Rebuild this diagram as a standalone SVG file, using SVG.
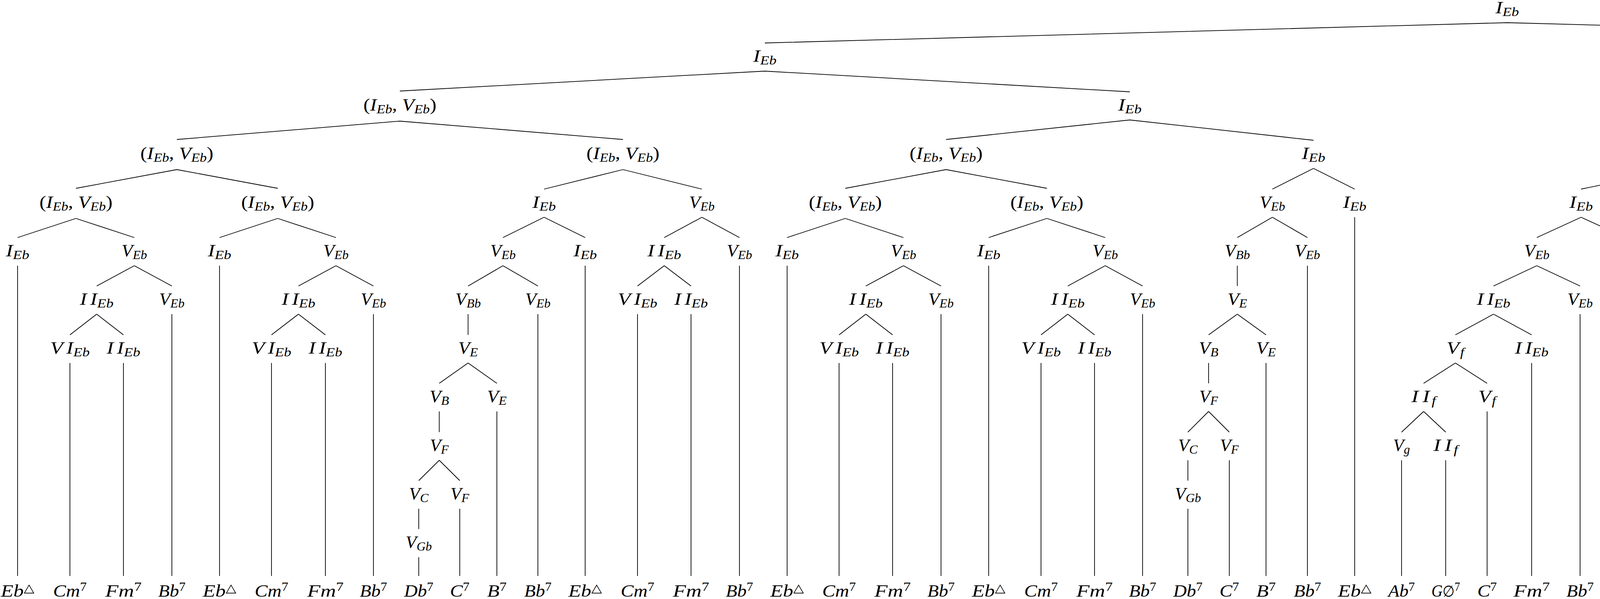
<svg xmlns="http://www.w3.org/2000/svg" width="7283" height="1533" viewBox="0 0 7283 1533">
<style>
text{font-family:"Liberation Serif","Times New Roman",serif;font-style:italic;font-size:45px;fill:#000;text-anchor:middle}
.s{font-size:31.5px}
.r{font-style:normal}
.p{font-size:31.5px;font-style:normal}
.tri{font-family:"DejaVu Sans",sans-serif;font-style:normal;font-size:30px}
.es{font-family:"DejaVu Sans",sans-serif;font-style:normal;font-size:40px}
#edges path{stroke:#000;stroke-width:1.8;fill:none}
</style>
<rect width="7283" height="1533" fill="#fff"/>
<g id="edges">
<path d="M3858.5 58L1958 110M3858.5 58L5759.1 110"/>
<path d="M1958 182L1023.7 233M1958 182L2892.3 235"/>
<path d="M1023.7 310L452.7 357M1023.7 310L1594.8 357"/>
<path d="M452.7 434L194.4 482M452.7 434L711 482"/>
<path d="M194.4 559L45 608M194.4 559L343.8 608"/>
<path d="M45 680L45 1474"/>
<path d="M343.8 680L247.5 732M343.8 680L440 732"/>
<path d="M247.5 804L179 857M247.5 804L316 857"/>
<path d="M179 929L179 1474M316 929L316 1474M440 804L440 1474"/>
<path d="M711 559L562 608M711 559L860 608"/>
<path d="M562 680L562 1474"/>
<path d="M860 680L764 732M860 680L956 732"/>
<path d="M764 804L695 857M764 804L833 857"/>
<path d="M695 929L695 1474M833 929L833 1474M956 804L956 1474"/>
<path d="M1594.8 434L1392.8 484M1594.8 434L1796.8 484"/>
<path d="M1392.8 556L1287.6 608M1392.8 556L1498 608"/>
<path d="M1287.6 680L1198.3 732M1287.6 680L1377 732"/>
<path d="M1198.3 804L1198.3 857"/>
<path d="M1198.3 929L1124.5 981M1198.3 929L1272 981"/>
<path d="M1124.5 1053L1124.5 1106"/>
<path d="M1124.5 1178L1072 1230M1124.5 1178L1177 1230"/>
<path d="M1072 1302L1072 1354"/>
<path d="M1072 1426L1072 1474M1177 1302L1177 1474M1272 1053L1272 1474M1377 804L1377 1474M1498 680L1498 1474"/>
<path d="M1796.8 556L1700.5 608M1796.8 556L1893 608"/>
<path d="M1700.5 680L1632 732M1700.5 680L1769 732"/>
<path d="M1632 804L1632 1474M1769 804L1769 1474M1893 680L1893 1474"/>
<path d="M2892.3 307L2422 357M2892.3 307L3362.6 359"/>
<path d="M2422 434L2163.9 482M2422 434L2680.1 482"/>
<path d="M2163.9 559L2015 608M2163.9 559L2312.8 608"/>
<path d="M2015 680L2015 1474"/>
<path d="M2312.8 680L2216.5 732M2312.8 680L2409 732"/>
<path d="M2216.5 804L2148 857M2216.5 804L2285 857"/>
<path d="M2148 929L2148 1474M2285 929L2285 1474M2409 804L2409 1474"/>
<path d="M2680.1 559L2531 608M2680.1 559L2829.3 608"/>
<path d="M2531 680L2531 1474"/>
<path d="M2829.3 680L2733.5 732M2829.3 680L2925 732"/>
<path d="M2733.5 804L2665 857M2733.5 804L2802 857"/>
<path d="M2665 929L2665 1474M2802 929L2802 1474M2925 804L2925 1474"/>
<path d="M3362.6 431L3257.3 484M3362.6 431L3468 484"/>
<path d="M3257.3 556L3167.5 608M3257.3 556L3347 608"/>
<path d="M3167.5 680L3167.5 732"/>
<path d="M3167.5 804L3094 857M3167.5 804L3241 857"/>
<path d="M3094 929L3094 981"/>
<path d="M3094 1053L3041 1106M3094 1053L3147 1106"/>
<path d="M3041 1178L3041 1230"/>
<path d="M3041 1302L3041 1474M3147 1178L3147 1474M3241 929L3241 1474M3347 680L3347 1474M3468 556L3468 1474"/>
<path d="M5759.1 182L4853.5 233M5759.1 182L6664.7 235"/>
<path d="M4853.5 310L4303.9 359M4853.5 310L5403.1 359"/>
<path d="M4303.9 431L4047.6 484M4303.9 431L4560.1 484"/>
<path d="M4047.6 556L3934.2 608M4047.6 556L4161 608"/>
<path d="M3934.2 680L3823.4 732M3934.2 680L4045 732"/>
<path d="M3823.4 804L3725.8 857M3823.4 804L3921 857"/>
<path d="M3725.8 929L3644.5 981M3725.8 929L3807 981"/>
<path d="M3644.5 1053L3588 1106M3644.5 1053L3701 1106"/>
<path d="M3588 1178L3588 1474M3701 1178L3701 1474M3807 1053L3807 1474M3921 929L3921 1474M4045 804L4045 1474M4161 680L4161 1480"/>
<path d="M4560.1 556L4454.3 608M4560.1 556L4666 608"/>
<path d="M4454.3 680L4357.5 732M4454.3 680L4551 732"/>
<path d="M4357.5 804L4289 857M4357.5 804L4426 857"/>
<path d="M4289 929L4289 1474M4426 929L4426 1474M4551 804L4551 1474M4666 680L4666 1480"/>
<path d="M5403.1 431L5202.2 484M5403.1 431L5604 484"/>
<path d="M5202.2 556L5047.9 608M5202.2 556L5356.5 608"/>
<path d="M5047.9 680L5047.9 732M5047.9 804L5047.9 857"/>
<path d="M5047.9 929L4937.8 981M5047.9 929L5158 981"/>
<path d="M4937.8 1053L4838.5 1106M4937.8 1053L5037 1106"/>
<path d="M4838.5 1178L4775 1230M4838.5 1178L4902 1230"/>
<path d="M4775 1302L4775 1354"/>
<path d="M4775 1426L4775 1474M4902 1302L4902 1474M5037 1178L5037 1474M5158 1053L5158 1474"/>
<path d="M5356.5 680L5293 732M5356.5 680L5420 732"/>
<path d="M5293 804L5293 1480M5420 804L5420 1474"/>
<path d="M5604 556L5542 608M5604 556L5666 608"/>
<path d="M5542 680L5542 1474M5666 680L5666 1474"/>
<path d="M6664.7 307L6194.6 357M6664.7 307L7134.9 359"/>
<path d="M6194.6 434L5936.6 482M6194.6 434L6452.5 482"/>
<path d="M5936.6 559L5787 608M5936.6 559L6086.3 608"/>
<path d="M5787 680L5787 1474"/>
<path d="M6086.3 680L5990.5 732M6086.3 680L6182 732"/>
<path d="M5990.5 804L5921 857M5990.5 804L6060 857"/>
<path d="M5921 929L5921 1474M6060 929L6060 1474M6182 804L6182 1474"/>
<path d="M6452.5 559L6303 608M6452.5 559L6602 608"/>
<path d="M6303 680L6303 1474"/>
<path d="M6602 680L6505 732M6602 680L6699 732"/>
<path d="M6505 804L6437 857M6505 804L6573 857"/>
<path d="M6437 929L6437 1474M6573 929L6573 1474M6699 804L6699 1474"/>
<path d="M7134.9 431L7029.8 484M7134.9 431L7240 484"/>
<path d="M7029.8 556L6940.5 608M7029.8 556L7119 608"/>
<path d="M6940.5 680L6940.5 732"/>
<path d="M6940.5 804L6867 857M6940.5 804L7014 857"/>
<path d="M6867 929L6867 981"/>
<path d="M6867 1053L6814 1106M6867 1053L6920 1106"/>
<path d="M6814 1178L6814 1230"/>
<path d="M6814 1302L6814 1474M6920 1178L6920 1474M7014 929L7014 1474M7119 680L7119 1474M7240 556L7240 1474"/>
</g>
<g id="nodes">
<g id="n0"><text x="3858.5" y="34" textLength="60" lengthAdjust="spacingAndGlyphs">I<tspan class="s" dy="6.75">Eb</tspan></text></g>
<g id="n1"><text x="1958" y="158" textLength="60" lengthAdjust="spacingAndGlyphs">I<tspan class="s" dy="6.75">Eb</tspan></text></g>
<g id="n2"><text x="1023.7" y="283" textLength="187" lengthAdjust="spacingAndGlyphs"><tspan class="r">(</tspan>I<tspan class="s" dy="6.75">Eb</tspan><tspan class="r" dy="-6.75">, </tspan>V<tspan class="s" dy="6.75">Eb</tspan><tspan class="r" dy="-6.75">)</tspan></text></g>
<g id="n3"><text x="452.7" y="407" textLength="187" lengthAdjust="spacingAndGlyphs"><tspan class="r">(</tspan>I<tspan class="s" dy="6.75">Eb</tspan><tspan class="r" dy="-6.75">, </tspan>V<tspan class="s" dy="6.75">Eb</tspan><tspan class="r" dy="-6.75">)</tspan></text></g>
<g id="n4"><text x="194.4" y="532" textLength="187" lengthAdjust="spacingAndGlyphs"><tspan class="r">(</tspan>I<tspan class="s" dy="6.75">Eb</tspan><tspan class="r" dy="-6.75">, </tspan>V<tspan class="s" dy="6.75">Eb</tspan><tspan class="r" dy="-6.75">)</tspan></text></g>
<g id="n5"><text x="45" y="656" textLength="60" lengthAdjust="spacingAndGlyphs">I<tspan class="s" dy="6.75">Eb</tspan></text></g>
<g id="n6"><text x="343.8" y="656" textLength="65" lengthAdjust="spacingAndGlyphs">V<tspan class="s" dy="6.75">Eb</tspan></text></g>
<g id="n7"><text x="247.5" y="780" textLength="86" lengthAdjust="spacingAndGlyphs">I<tspan dx="7">I</tspan><tspan class="s" dy="6.75">Eb</tspan></text></g>
<g id="n8"><text x="179" y="905" textLength="101" lengthAdjust="spacingAndGlyphs">V<tspan dx="7">I</tspan><tspan class="s" dy="6.75">Eb</tspan></text></g>
<g id="n9"><text x="316" y="905" textLength="86" lengthAdjust="spacingAndGlyphs">I<tspan dx="7">I</tspan><tspan class="s" dy="6.75">Eb</tspan></text></g>
<g id="n10"><text x="440" y="780" textLength="65" lengthAdjust="spacingAndGlyphs">V<tspan class="s" dy="6.75">Eb</tspan></text></g>
<g id="n11"><text x="711" y="532" textLength="187" lengthAdjust="spacingAndGlyphs"><tspan class="r">(</tspan>I<tspan class="s" dy="6.75">Eb</tspan><tspan class="r" dy="-6.75">, </tspan>V<tspan class="s" dy="6.75">Eb</tspan><tspan class="r" dy="-6.75">)</tspan></text></g>
<g id="n12"><text x="562" y="656" textLength="60" lengthAdjust="spacingAndGlyphs">I<tspan class="s" dy="6.75">Eb</tspan></text></g>
<g id="n13"><text x="860" y="656" textLength="65" lengthAdjust="spacingAndGlyphs">V<tspan class="s" dy="6.75">Eb</tspan></text></g>
<g id="n14"><text x="764" y="780" textLength="86" lengthAdjust="spacingAndGlyphs">I<tspan dx="7">I</tspan><tspan class="s" dy="6.75">Eb</tspan></text></g>
<g id="n15"><text x="695" y="905" textLength="101" lengthAdjust="spacingAndGlyphs">V<tspan dx="7">I</tspan><tspan class="s" dy="6.75">Eb</tspan></text></g>
<g id="n16"><text x="833" y="905" textLength="86" lengthAdjust="spacingAndGlyphs">I<tspan dx="7">I</tspan><tspan class="s" dy="6.75">Eb</tspan></text></g>
<g id="n17"><text x="956" y="780" textLength="65" lengthAdjust="spacingAndGlyphs">V<tspan class="s" dy="6.75">Eb</tspan></text></g>
<g id="n18"><text x="1594.8" y="407" textLength="187" lengthAdjust="spacingAndGlyphs"><tspan class="r">(</tspan>I<tspan class="s" dy="6.75">Eb</tspan><tspan class="r" dy="-6.75">, </tspan>V<tspan class="s" dy="6.75">Eb</tspan><tspan class="r" dy="-6.75">)</tspan></text></g>
<g id="n19"><text x="1392.8" y="532" textLength="60" lengthAdjust="spacingAndGlyphs">I<tspan class="s" dy="6.75">Eb</tspan></text></g>
<g id="n20"><text x="1287.6" y="656" textLength="65" lengthAdjust="spacingAndGlyphs">V<tspan class="s" dy="6.75">Eb</tspan></text></g>
<g id="n21"><text x="1198.3" y="780" textLength="65" lengthAdjust="spacingAndGlyphs">V<tspan class="s" dy="6.75">Bb</tspan></text></g>
<g id="n22"><text x="1198.3" y="905" textLength="50" lengthAdjust="spacingAndGlyphs">V<tspan class="s" dy="6.75">E</tspan></text></g>
<g id="n23"><text x="1124.5" y="1029" textLength="50" lengthAdjust="spacingAndGlyphs">V<tspan class="s" dy="6.75">B</tspan></text></g>
<g id="n24"><text x="1124.5" y="1154" textLength="48" lengthAdjust="spacingAndGlyphs">V<tspan class="s" dy="6.75">F</tspan></text></g>
<g id="n25"><text x="1072" y="1278" textLength="50" lengthAdjust="spacingAndGlyphs">V<tspan class="s" dy="6.75">C</tspan></text></g>
<g id="n26"><text x="1072" y="1402" textLength="67" lengthAdjust="spacingAndGlyphs">V<tspan class="s" dy="6.75">Gb</tspan></text></g>
<g id="n27"><text x="1177" y="1278" textLength="48" lengthAdjust="spacingAndGlyphs">V<tspan class="s" dy="6.75">F</tspan></text></g>
<g id="n28"><text x="1272" y="1029" textLength="50" lengthAdjust="spacingAndGlyphs">V<tspan class="s" dy="6.75">E</tspan></text></g>
<g id="n29"><text x="1377" y="780" textLength="65" lengthAdjust="spacingAndGlyphs">V<tspan class="s" dy="6.75">Eb</tspan></text></g>
<g id="n30"><text x="1498" y="656" textLength="60" lengthAdjust="spacingAndGlyphs">I<tspan class="s" dy="6.75">Eb</tspan></text></g>
<g id="n31"><text x="1796.8" y="532" textLength="65" lengthAdjust="spacingAndGlyphs">V<tspan class="s" dy="6.75">Eb</tspan></text></g>
<g id="n32"><text x="1700.5" y="656" textLength="86" lengthAdjust="spacingAndGlyphs">I<tspan dx="7">I</tspan><tspan class="s" dy="6.75">Eb</tspan></text></g>
<g id="n33"><text x="1632" y="780" textLength="101" lengthAdjust="spacingAndGlyphs">V<tspan dx="7">I</tspan><tspan class="s" dy="6.75">Eb</tspan></text></g>
<g id="n34"><text x="1769" y="780" textLength="86" lengthAdjust="spacingAndGlyphs">I<tspan dx="7">I</tspan><tspan class="s" dy="6.75">Eb</tspan></text></g>
<g id="n35"><text x="1893" y="656" textLength="65" lengthAdjust="spacingAndGlyphs">V<tspan class="s" dy="6.75">Eb</tspan></text></g>
<g id="n36"><text x="2892.3" y="283" textLength="60" lengthAdjust="spacingAndGlyphs">I<tspan class="s" dy="6.75">Eb</tspan></text></g>
<g id="n37"><text x="2422" y="407" textLength="187" lengthAdjust="spacingAndGlyphs"><tspan class="r">(</tspan>I<tspan class="s" dy="6.75">Eb</tspan><tspan class="r" dy="-6.75">, </tspan>V<tspan class="s" dy="6.75">Eb</tspan><tspan class="r" dy="-6.75">)</tspan></text></g>
<g id="n38"><text x="2163.9" y="532" textLength="187" lengthAdjust="spacingAndGlyphs"><tspan class="r">(</tspan>I<tspan class="s" dy="6.75">Eb</tspan><tspan class="r" dy="-6.75">, </tspan>V<tspan class="s" dy="6.75">Eb</tspan><tspan class="r" dy="-6.75">)</tspan></text></g>
<g id="n39"><text x="2015" y="656" textLength="60" lengthAdjust="spacingAndGlyphs">I<tspan class="s" dy="6.75">Eb</tspan></text></g>
<g id="n40"><text x="2312.8" y="656" textLength="65" lengthAdjust="spacingAndGlyphs">V<tspan class="s" dy="6.75">Eb</tspan></text></g>
<g id="n41"><text x="2216.5" y="780" textLength="86" lengthAdjust="spacingAndGlyphs">I<tspan dx="7">I</tspan><tspan class="s" dy="6.75">Eb</tspan></text></g>
<g id="n42"><text x="2148" y="905" textLength="101" lengthAdjust="spacingAndGlyphs">V<tspan dx="7">I</tspan><tspan class="s" dy="6.75">Eb</tspan></text></g>
<g id="n43"><text x="2285" y="905" textLength="86" lengthAdjust="spacingAndGlyphs">I<tspan dx="7">I</tspan><tspan class="s" dy="6.75">Eb</tspan></text></g>
<g id="n44"><text x="2409" y="780" textLength="65" lengthAdjust="spacingAndGlyphs">V<tspan class="s" dy="6.75">Eb</tspan></text></g>
<g id="n45"><text x="2680.1" y="532" textLength="187" lengthAdjust="spacingAndGlyphs"><tspan class="r">(</tspan>I<tspan class="s" dy="6.75">Eb</tspan><tspan class="r" dy="-6.75">, </tspan>V<tspan class="s" dy="6.75">Eb</tspan><tspan class="r" dy="-6.75">)</tspan></text></g>
<g id="n46"><text x="2531" y="656" textLength="60" lengthAdjust="spacingAndGlyphs">I<tspan class="s" dy="6.75">Eb</tspan></text></g>
<g id="n47"><text x="2829.3" y="656" textLength="65" lengthAdjust="spacingAndGlyphs">V<tspan class="s" dy="6.75">Eb</tspan></text></g>
<g id="n48"><text x="2733.5" y="780" textLength="86" lengthAdjust="spacingAndGlyphs">I<tspan dx="7">I</tspan><tspan class="s" dy="6.75">Eb</tspan></text></g>
<g id="n49"><text x="2665" y="905" textLength="101" lengthAdjust="spacingAndGlyphs">V<tspan dx="7">I</tspan><tspan class="s" dy="6.75">Eb</tspan></text></g>
<g id="n50"><text x="2802" y="905" textLength="86" lengthAdjust="spacingAndGlyphs">I<tspan dx="7">I</tspan><tspan class="s" dy="6.75">Eb</tspan></text></g>
<g id="n51"><text x="2925" y="780" textLength="65" lengthAdjust="spacingAndGlyphs">V<tspan class="s" dy="6.75">Eb</tspan></text></g>
<g id="n52"><text x="3362.6" y="407" textLength="60" lengthAdjust="spacingAndGlyphs">I<tspan class="s" dy="6.75">Eb</tspan></text></g>
<g id="n53"><text x="3257.3" y="532" textLength="65" lengthAdjust="spacingAndGlyphs">V<tspan class="s" dy="6.75">Eb</tspan></text></g>
<g id="n54"><text x="3167.5" y="656" textLength="65" lengthAdjust="spacingAndGlyphs">V<tspan class="s" dy="6.75">Bb</tspan></text></g>
<g id="n55"><text x="3167.5" y="780" textLength="50" lengthAdjust="spacingAndGlyphs">V<tspan class="s" dy="6.75">E</tspan></text></g>
<g id="n56"><text x="3094" y="905" textLength="50" lengthAdjust="spacingAndGlyphs">V<tspan class="s" dy="6.75">B</tspan></text></g>
<g id="n57"><text x="3094" y="1029" textLength="48" lengthAdjust="spacingAndGlyphs">V<tspan class="s" dy="6.75">F</tspan></text></g>
<g id="n58"><text x="3041" y="1154" textLength="50" lengthAdjust="spacingAndGlyphs">V<tspan class="s" dy="6.75">C</tspan></text></g>
<g id="n59"><text x="3041" y="1278" textLength="67" lengthAdjust="spacingAndGlyphs">V<tspan class="s" dy="6.75">Gb</tspan></text></g>
<g id="n60"><text x="3147" y="1154" textLength="48" lengthAdjust="spacingAndGlyphs">V<tspan class="s" dy="6.75">F</tspan></text></g>
<g id="n61"><text x="3241" y="905" textLength="50" lengthAdjust="spacingAndGlyphs">V<tspan class="s" dy="6.75">E</tspan></text></g>
<g id="n62"><text x="3347" y="656" textLength="65" lengthAdjust="spacingAndGlyphs">V<tspan class="s" dy="6.75">Eb</tspan></text></g>
<g id="n63"><text x="3468" y="532" textLength="60" lengthAdjust="spacingAndGlyphs">I<tspan class="s" dy="6.75">Eb</tspan></text></g>
<g id="n64"><text x="5759.1" y="158" textLength="60" lengthAdjust="spacingAndGlyphs">I<tspan class="s" dy="6.75">Eb</tspan></text></g>
<g id="n65"><text x="4853.5" y="283" textLength="187" lengthAdjust="spacingAndGlyphs"><tspan class="r">(</tspan>I<tspan class="s" dy="6.75">Eb</tspan><tspan class="r" dy="-6.75">, </tspan>V<tspan class="s" dy="6.75">Eb</tspan><tspan class="r" dy="-6.75">)</tspan></text></g>
<g id="n66"><text x="4303.9" y="407" textLength="60" lengthAdjust="spacingAndGlyphs">I<tspan class="s" dy="6.75">Eb</tspan></text></g>
<g id="n67"><text x="4047.6" y="532" textLength="60" lengthAdjust="spacingAndGlyphs">I<tspan class="s" dy="6.75">Eb</tspan></text></g>
<g id="n68"><text x="3934.2" y="656" textLength="65" lengthAdjust="spacingAndGlyphs">V<tspan class="s" dy="6.75">Eb</tspan></text></g>
<g id="n69"><text x="3823.4" y="780" textLength="86" lengthAdjust="spacingAndGlyphs">I<tspan dx="7">I</tspan><tspan class="s" dy="6.75">Eb</tspan></text></g>
<g id="n70"><text x="3725.8" y="905" textLength="45" lengthAdjust="spacingAndGlyphs">V<tspan class="s" dx="2" dy="6.75">f</tspan></text></g>
<g id="n71"><text x="3644.5" y="1029" textLength="63" lengthAdjust="spacingAndGlyphs">I<tspan dx="8">I</tspan><tspan class="s" dx="4" dy="6.75">f</tspan></text></g>
<g id="n72"><text x="3588" y="1154" textLength="43" lengthAdjust="spacingAndGlyphs">V<tspan class="s" dy="6.75">g</tspan></text></g>
<g id="n73"><text x="3701" y="1154" textLength="63" lengthAdjust="spacingAndGlyphs">I<tspan dx="8">I</tspan><tspan class="s" dx="4" dy="6.75">f</tspan></text></g>
<g id="n74"><text x="3807" y="1029" textLength="45" lengthAdjust="spacingAndGlyphs">V<tspan class="s" dx="2" dy="6.75">f</tspan></text></g>
<g id="n75"><text x="3921" y="905" textLength="86" lengthAdjust="spacingAndGlyphs">I<tspan dx="7">I</tspan><tspan class="s" dy="6.75">Eb</tspan></text></g>
<g id="n76"><text x="4045" y="780" textLength="65" lengthAdjust="spacingAndGlyphs">V<tspan class="s" dy="6.75">Eb</tspan></text></g>
<g id="n77"><text x="4161" y="656" textLength="60" lengthAdjust="spacingAndGlyphs">I<tspan class="s" dy="6.75">Eb</tspan></text></g>
<g id="n78"><text x="4560.1" y="532" textLength="60" lengthAdjust="spacingAndGlyphs">I<tspan class="s" dy="6.75">Eb</tspan></text></g>
<g id="n79"><text x="4454.3" y="656" textLength="65" lengthAdjust="spacingAndGlyphs">V<tspan class="s" dy="6.75">Eb</tspan></text></g>
<g id="n80"><text x="4357.5" y="780" textLength="86" lengthAdjust="spacingAndGlyphs">I<tspan dx="7">I</tspan><tspan class="s" dy="6.75">Eb</tspan></text></g>
<g id="n81"><text x="4289" y="905" textLength="101" lengthAdjust="spacingAndGlyphs">V<tspan dx="7">I</tspan><tspan class="s" dy="6.75">Eb</tspan></text></g>
<g id="n82"><text x="4426" y="905" textLength="86" lengthAdjust="spacingAndGlyphs">I<tspan dx="7">I</tspan><tspan class="s" dy="6.75">Eb</tspan></text></g>
<g id="n83"><text x="4551" y="780" textLength="65" lengthAdjust="spacingAndGlyphs">V<tspan class="s" dy="6.75">Eb</tspan></text></g>
<g id="n84"><text x="4666" y="656" textLength="60" lengthAdjust="spacingAndGlyphs">I<tspan class="s" dy="6.75">Eb</tspan></text></g>
<g id="n85"><text x="5403.1" y="407" textLength="65" lengthAdjust="spacingAndGlyphs">V<tspan class="s" dy="6.75">Eb</tspan></text></g>
<g id="n86"><text x="5202.2" y="532" textLength="65" lengthAdjust="spacingAndGlyphs">V<tspan class="s" dy="6.75">Bb</tspan></text></g>
<g id="n87"><text x="5047.9" y="656" textLength="50" lengthAdjust="spacingAndGlyphs">V<tspan class="s" dy="6.75">F</tspan></text></g>
<g id="n88"><text x="5047.9" y="780" textLength="68" lengthAdjust="spacingAndGlyphs">V<tspan class="s" dy="6.75">Cb</tspan></text></g>
<g id="n89"><text x="5047.9" y="905" textLength="60" lengthAdjust="spacingAndGlyphs">I<tspan class="s" dy="6.75">Gb</tspan></text></g>
<g id="n90"><text x="4937.8" y="1029" textLength="68" lengthAdjust="spacingAndGlyphs">V<tspan class="s" dy="6.75">Gb</tspan></text></g>
<g id="n91"><text x="4838.5" y="1154" textLength="85" lengthAdjust="spacingAndGlyphs">I<tspan dx="7">I</tspan><tspan class="s" dy="6.75">Gb</tspan></text></g>
<g id="n92"><text x="4775" y="1278" textLength="61" lengthAdjust="spacingAndGlyphs">V<tspan class="s" dy="6.75">ab</tspan></text></g>
<g id="n93"><text x="4775" y="1402" textLength="47" lengthAdjust="spacingAndGlyphs">V<tspan class="s" dy="6.75">d</tspan></text></g>
<g id="n94"><text x="4902" y="1278" textLength="85" lengthAdjust="spacingAndGlyphs">I<tspan dx="7">I</tspan><tspan class="s" dy="6.75">Gb</tspan></text></g>
<g id="n95"><text x="5037" y="1154" textLength="68" lengthAdjust="spacingAndGlyphs">V<tspan class="s" dy="6.75">Gb</tspan></text></g>
<g id="n96"><text x="5158" y="1029" textLength="60" lengthAdjust="spacingAndGlyphs">I<tspan class="s" dy="6.75">Gb</tspan></text></g>
<g id="n97"><text x="5356.5" y="656" textLength="65" lengthAdjust="spacingAndGlyphs">V<tspan class="s" dy="6.75">Bb</tspan></text></g>
<g id="n98"><text x="5293" y="780" textLength="65" lengthAdjust="spacingAndGlyphs">V<tspan class="s" dy="6.75">Bb</tspan></text></g>
<g id="n99"><text x="5420" y="780" textLength="65" lengthAdjust="spacingAndGlyphs">V<tspan class="s" dy="6.75">Bb</tspan></text></g>
<g id="n100"><text x="5604" y="532" textLength="65" lengthAdjust="spacingAndGlyphs">V<tspan class="s" dy="6.75">Eb</tspan></text></g>
<g id="n101"><text x="5542" y="656" textLength="86" lengthAdjust="spacingAndGlyphs">I<tspan dx="7">I</tspan><tspan class="s" dy="6.75">Eb</tspan></text></g>
<g id="n102"><text x="5666" y="656" textLength="65" lengthAdjust="spacingAndGlyphs">V<tspan class="s" dy="6.75">Eb</tspan></text></g>
<g id="n103"><text x="6664.7" y="283" textLength="60" lengthAdjust="spacingAndGlyphs">I<tspan class="s" dy="6.75">Eb</tspan></text></g>
<g id="n104"><text x="6194.6" y="407" textLength="187" lengthAdjust="spacingAndGlyphs"><tspan class="r">(</tspan>I<tspan class="s" dy="6.75">Eb</tspan><tspan class="r" dy="-6.75">, </tspan>V<tspan class="s" dy="6.75">Eb</tspan><tspan class="r" dy="-6.75">)</tspan></text></g>
<g id="n105"><text x="5936.6" y="532" textLength="187" lengthAdjust="spacingAndGlyphs"><tspan class="r">(</tspan>I<tspan class="s" dy="6.75">Eb</tspan><tspan class="r" dy="-6.75">, </tspan>V<tspan class="s" dy="6.75">Eb</tspan><tspan class="r" dy="-6.75">)</tspan></text></g>
<g id="n106"><text x="5787" y="656" textLength="60" lengthAdjust="spacingAndGlyphs">I<tspan class="s" dy="6.75">Eb</tspan></text></g>
<g id="n107"><text x="6086.3" y="656" textLength="65" lengthAdjust="spacingAndGlyphs">V<tspan class="s" dy="6.75">Eb</tspan></text></g>
<g id="n108"><text x="5990.5" y="780" textLength="86" lengthAdjust="spacingAndGlyphs">I<tspan dx="7">I</tspan><tspan class="s" dy="6.75">Eb</tspan></text></g>
<g id="n109"><text x="5921" y="905" textLength="101" lengthAdjust="spacingAndGlyphs">V<tspan dx="7">I</tspan><tspan class="s" dy="6.75">Eb</tspan></text></g>
<g id="n110"><text x="6060" y="905" textLength="86" lengthAdjust="spacingAndGlyphs">I<tspan dx="7">I</tspan><tspan class="s" dy="6.75">Eb</tspan></text></g>
<g id="n111"><text x="6182" y="780" textLength="65" lengthAdjust="spacingAndGlyphs">V<tspan class="s" dy="6.75">Eb</tspan></text></g>
<g id="n112"><text x="6452.5" y="532" textLength="187" lengthAdjust="spacingAndGlyphs"><tspan class="r">(</tspan>I<tspan class="s" dy="6.75">Eb</tspan><tspan class="r" dy="-6.75">, </tspan>V<tspan class="s" dy="6.75">Eb</tspan><tspan class="r" dy="-6.75">)</tspan></text></g>
<g id="n113"><text x="6303" y="656" textLength="60" lengthAdjust="spacingAndGlyphs">I<tspan class="s" dy="6.75">Eb</tspan></text></g>
<g id="n114"><text x="6602" y="656" textLength="65" lengthAdjust="spacingAndGlyphs">V<tspan class="s" dy="6.75">Eb</tspan></text></g>
<g id="n115"><text x="6505" y="780" textLength="86" lengthAdjust="spacingAndGlyphs">I<tspan dx="7">I</tspan><tspan class="s" dy="6.75">Eb</tspan></text></g>
<g id="n116"><text x="6437" y="905" textLength="101" lengthAdjust="spacingAndGlyphs">V<tspan dx="7">I</tspan><tspan class="s" dy="6.75">Eb</tspan></text></g>
<g id="n117"><text x="6573" y="905" textLength="86" lengthAdjust="spacingAndGlyphs">I<tspan dx="7">I</tspan><tspan class="s" dy="6.75">Eb</tspan></text></g>
<g id="n118"><text x="6699" y="780" textLength="65" lengthAdjust="spacingAndGlyphs">V<tspan class="s" dy="6.75">Eb</tspan></text></g>
<g id="n119"><text x="7134.9" y="407" textLength="60" lengthAdjust="spacingAndGlyphs">I<tspan class="s" dy="6.75">Eb</tspan></text></g>
<g id="n120"><text x="7029.8" y="532" textLength="65" lengthAdjust="spacingAndGlyphs">V<tspan class="s" dy="6.75">Eb</tspan></text></g>
<g id="n121"><text x="6940.5" y="656" textLength="65" lengthAdjust="spacingAndGlyphs">V<tspan class="s" dy="6.75">Bb</tspan></text></g>
<g id="n122"><text x="6940.5" y="780" textLength="50" lengthAdjust="spacingAndGlyphs">V<tspan class="s" dy="6.75">E</tspan></text></g>
<g id="n123"><text x="6867" y="905" textLength="50" lengthAdjust="spacingAndGlyphs">V<tspan class="s" dy="6.75">B</tspan></text></g>
<g id="n124"><text x="6867" y="1029" textLength="48" lengthAdjust="spacingAndGlyphs">V<tspan class="s" dy="6.75">F</tspan></text></g>
<g id="n125"><text x="6814" y="1154" textLength="50" lengthAdjust="spacingAndGlyphs">V<tspan class="s" dy="6.75">C</tspan></text></g>
<g id="n126"><text x="6814" y="1278" textLength="67" lengthAdjust="spacingAndGlyphs">V<tspan class="s" dy="6.75">Gb</tspan></text></g>
<g id="n127"><text x="6920" y="1154" textLength="48" lengthAdjust="spacingAndGlyphs">V<tspan class="s" dy="6.75">F</tspan></text></g>
<g id="n128"><text x="7014" y="905" textLength="50" lengthAdjust="spacingAndGlyphs">V<tspan class="s" dy="6.75">E</tspan></text></g>
<g id="n129"><text x="7119" y="656" textLength="65" lengthAdjust="spacingAndGlyphs">V<tspan class="s" dy="6.75">Eb</tspan></text></g>
<g id="n130"><text x="7240" y="532" textLength="60" lengthAdjust="spacingAndGlyphs">I<tspan class="s" dy="6.75">Eb</tspan></text></g>
</g>
<g id="leaves">
<g id="l1"><text x="45" y="1527" textLength="86" lengthAdjust="spacingAndGlyphs">Eb<tspan class="tri" dy="-12">△</tspan></text></g>
<g id="l2"><text x="179" y="1527" textLength="86" lengthAdjust="spacingAndGlyphs">Cm<tspan class="p" dy="-15">7</tspan></text></g>
<g id="l3"><text x="316" y="1527" textLength="93" lengthAdjust="spacingAndGlyphs">Fm<tspan class="p" dy="-15">7</tspan></text></g>
<g id="l4"><text x="440" y="1527" textLength="70" lengthAdjust="spacingAndGlyphs">Bb<tspan class="p" dy="-15">7</tspan></text></g>
<g id="l5"><text x="562" y="1527" textLength="86" lengthAdjust="spacingAndGlyphs">Eb<tspan class="tri" dy="-12">△</tspan></text></g>
<g id="l6"><text x="695" y="1527" textLength="86" lengthAdjust="spacingAndGlyphs">Cm<tspan class="p" dy="-15">7</tspan></text></g>
<g id="l7"><text x="833" y="1527" textLength="93" lengthAdjust="spacingAndGlyphs">Fm<tspan class="p" dy="-15">7</tspan></text></g>
<g id="l8"><text x="956" y="1527" textLength="70" lengthAdjust="spacingAndGlyphs">Bb<tspan class="p" dy="-15">7</tspan></text></g>
<g id="l9"><text x="1072" y="1527" textLength="75" lengthAdjust="spacingAndGlyphs">Db<tspan class="p" dy="-15">7</tspan></text></g>
<g id="l10"><text x="1177" y="1527" textLength="50" lengthAdjust="spacingAndGlyphs">C<tspan class="p" dy="-15">7</tspan></text></g>
<g id="l11"><text x="1272" y="1527" textLength="50" lengthAdjust="spacingAndGlyphs">B<tspan class="p" dy="-15">7</tspan></text></g>
<g id="l12"><text x="1377" y="1527" textLength="70" lengthAdjust="spacingAndGlyphs">Bb<tspan class="p" dy="-15">7</tspan></text></g>
<g id="l13"><text x="1498" y="1527" textLength="86" lengthAdjust="spacingAndGlyphs">Eb<tspan class="tri" dy="-12">△</tspan></text></g>
<g id="l14"><text x="1632" y="1527" textLength="86" lengthAdjust="spacingAndGlyphs">Cm<tspan class="p" dy="-15">7</tspan></text></g>
<g id="l15"><text x="1769" y="1527" textLength="93" lengthAdjust="spacingAndGlyphs">Fm<tspan class="p" dy="-15">7</tspan></text></g>
<g id="l16"><text x="1893" y="1527" textLength="70" lengthAdjust="spacingAndGlyphs">Bb<tspan class="p" dy="-15">7</tspan></text></g>
<g id="l17"><text x="2015" y="1527" textLength="86" lengthAdjust="spacingAndGlyphs">Eb<tspan class="tri" dy="-12">△</tspan></text></g>
<g id="l18"><text x="2148" y="1527" textLength="86" lengthAdjust="spacingAndGlyphs">Cm<tspan class="p" dy="-15">7</tspan></text></g>
<g id="l19"><text x="2285" y="1527" textLength="93" lengthAdjust="spacingAndGlyphs">Fm<tspan class="p" dy="-15">7</tspan></text></g>
<g id="l20"><text x="2409" y="1527" textLength="70" lengthAdjust="spacingAndGlyphs">Bb<tspan class="p" dy="-15">7</tspan></text></g>
<g id="l21"><text x="2531" y="1527" textLength="86" lengthAdjust="spacingAndGlyphs">Eb<tspan class="tri" dy="-12">△</tspan></text></g>
<g id="l22"><text x="2665" y="1527" textLength="86" lengthAdjust="spacingAndGlyphs">Cm<tspan class="p" dy="-15">7</tspan></text></g>
<g id="l23"><text x="2802" y="1527" textLength="93" lengthAdjust="spacingAndGlyphs">Fm<tspan class="p" dy="-15">7</tspan></text></g>
<g id="l24"><text x="2925" y="1527" textLength="70" lengthAdjust="spacingAndGlyphs">Bb<tspan class="p" dy="-15">7</tspan></text></g>
<g id="l25"><text x="3041" y="1527" textLength="75" lengthAdjust="spacingAndGlyphs">Db<tspan class="p" dy="-15">7</tspan></text></g>
<g id="l26"><text x="3147" y="1527" textLength="50" lengthAdjust="spacingAndGlyphs">C<tspan class="p" dy="-15">7</tspan></text></g>
<g id="l27"><text x="3241" y="1527" textLength="50" lengthAdjust="spacingAndGlyphs">B<tspan class="p" dy="-15">7</tspan></text></g>
<g id="l28"><text x="3347" y="1527" textLength="70" lengthAdjust="spacingAndGlyphs">Bb<tspan class="p" dy="-15">7</tspan></text></g>
<g id="l29"><text x="3468" y="1527" textLength="86" lengthAdjust="spacingAndGlyphs">Eb<tspan class="tri" dy="-12">△</tspan></text></g>
<g id="l30"><text x="3588" y="1527" textLength="68" lengthAdjust="spacingAndGlyphs">Ab<tspan class="p" dy="-15">7</tspan></text></g>
<g id="l31"><text x="3701" y="1527" textLength="73" lengthAdjust="spacingAndGlyphs">G<tspan class="es">∅</tspan><tspan class="p" dy="-15">7</tspan></text></g>
<g id="l32"><text x="3807" y="1527" textLength="50" lengthAdjust="spacingAndGlyphs">C<tspan class="p" dy="-15">7</tspan></text></g>
<g id="l33"><text x="3921" y="1527" textLength="93" lengthAdjust="spacingAndGlyphs">Fm<tspan class="p" dy="-15">7</tspan></text></g>
<g id="l34"><text x="4045" y="1527" textLength="70" lengthAdjust="spacingAndGlyphs">Bb<tspan class="p" dy="-15">7</tspan></text></g>
<g id="l35"><text x="4161" y="1527" textLength="76" lengthAdjust="spacingAndGlyphs">Eb<tspan class="r">6</tspan></text></g>
<g id="l36"><text x="4289" y="1527" textLength="86" lengthAdjust="spacingAndGlyphs">Cm<tspan class="p" dy="-15">7</tspan></text></g>
<g id="l37"><text x="4426" y="1527" textLength="93" lengthAdjust="spacingAndGlyphs">Fm<tspan class="p" dy="-15">7</tspan></text></g>
<g id="l38"><text x="4551" y="1527" textLength="70" lengthAdjust="spacingAndGlyphs">Bb<tspan class="p" dy="-15">7</tspan></text></g>
<g id="l39"><text x="4666" y="1527" textLength="76" lengthAdjust="spacingAndGlyphs">Eb<tspan class="r">6</tspan></text></g>
<g id="l40"><text x="4775" y="1527" textLength="52" lengthAdjust="spacingAndGlyphs">A<tspan class="p" dy="-15">7</tspan></text></g>
<g id="l41"><text x="4902" y="1527" textLength="107" lengthAdjust="spacingAndGlyphs">Abm<tspan class="p" dy="-15">7</tspan></text></g>
<g id="l42"><text x="5037" y="1527" textLength="75" lengthAdjust="spacingAndGlyphs">Db<tspan class="p" dy="-15">7</tspan></text></g>
<g id="l43"><text x="5158" y="1527" textLength="83" lengthAdjust="spacingAndGlyphs">Gb<tspan class="tri" dy="-12">△</tspan></text></g>
<g id="l44"><text x="5293" y="1527" textLength="101" lengthAdjust="spacingAndGlyphs">Fsus</text></g>
<g id="l45"><text x="5420" y="1527" textLength="51" lengthAdjust="spacingAndGlyphs">F<tspan class="p" dy="-15">7</tspan></text></g>
<g id="l46"><text x="5542" y="1527" textLength="93" lengthAdjust="spacingAndGlyphs">Fm<tspan class="p" dy="-15">7</tspan></text></g>
<g id="l47"><text x="5666" y="1527" textLength="70" lengthAdjust="spacingAndGlyphs">Bb<tspan class="p" dy="-15">7</tspan></text></g>
<g id="l48"><text x="5787" y="1527" textLength="86" lengthAdjust="spacingAndGlyphs">Eb<tspan class="tri" dy="-12">△</tspan></text></g>
<g id="l49"><text x="5921" y="1527" textLength="86" lengthAdjust="spacingAndGlyphs">Cm<tspan class="p" dy="-15">7</tspan></text></g>
<g id="l50"><text x="6060" y="1527" textLength="93" lengthAdjust="spacingAndGlyphs">Fm<tspan class="p" dy="-15">7</tspan></text></g>
<g id="l51"><text x="6182" y="1527" textLength="70" lengthAdjust="spacingAndGlyphs">Bb<tspan class="p" dy="-15">7</tspan></text></g>
<g id="l52"><text x="6303" y="1527" textLength="86" lengthAdjust="spacingAndGlyphs">Eb<tspan class="tri" dy="-12">△</tspan></text></g>
<g id="l53"><text x="6437" y="1527" textLength="86" lengthAdjust="spacingAndGlyphs">Cm<tspan class="p" dy="-15">7</tspan></text></g>
<g id="l54"><text x="6573" y="1527" textLength="93" lengthAdjust="spacingAndGlyphs">Fm<tspan class="p" dy="-15">7</tspan></text></g>
<g id="l55"><text x="6699" y="1527" textLength="70" lengthAdjust="spacingAndGlyphs">Bb<tspan class="p" dy="-15">7</tspan></text></g>
<g id="l56"><text x="6814" y="1527" textLength="75" lengthAdjust="spacingAndGlyphs">Db<tspan class="p" dy="-15">7</tspan></text></g>
<g id="l57"><text x="6920" y="1527" textLength="50" lengthAdjust="spacingAndGlyphs">C<tspan class="p" dy="-15">7</tspan></text></g>
<g id="l58"><text x="7014" y="1527" textLength="50" lengthAdjust="spacingAndGlyphs">B<tspan class="p" dy="-15">7</tspan></text></g>
<g id="l59"><text x="7119" y="1527" textLength="70" lengthAdjust="spacingAndGlyphs">Bb<tspan class="p" dy="-15">7</tspan></text></g>
<g id="l60"><text x="7240" y="1527" textLength="86" lengthAdjust="spacingAndGlyphs">Eb<tspan class="tri" dy="-12">△</tspan></text></g>
</g>
</svg>
